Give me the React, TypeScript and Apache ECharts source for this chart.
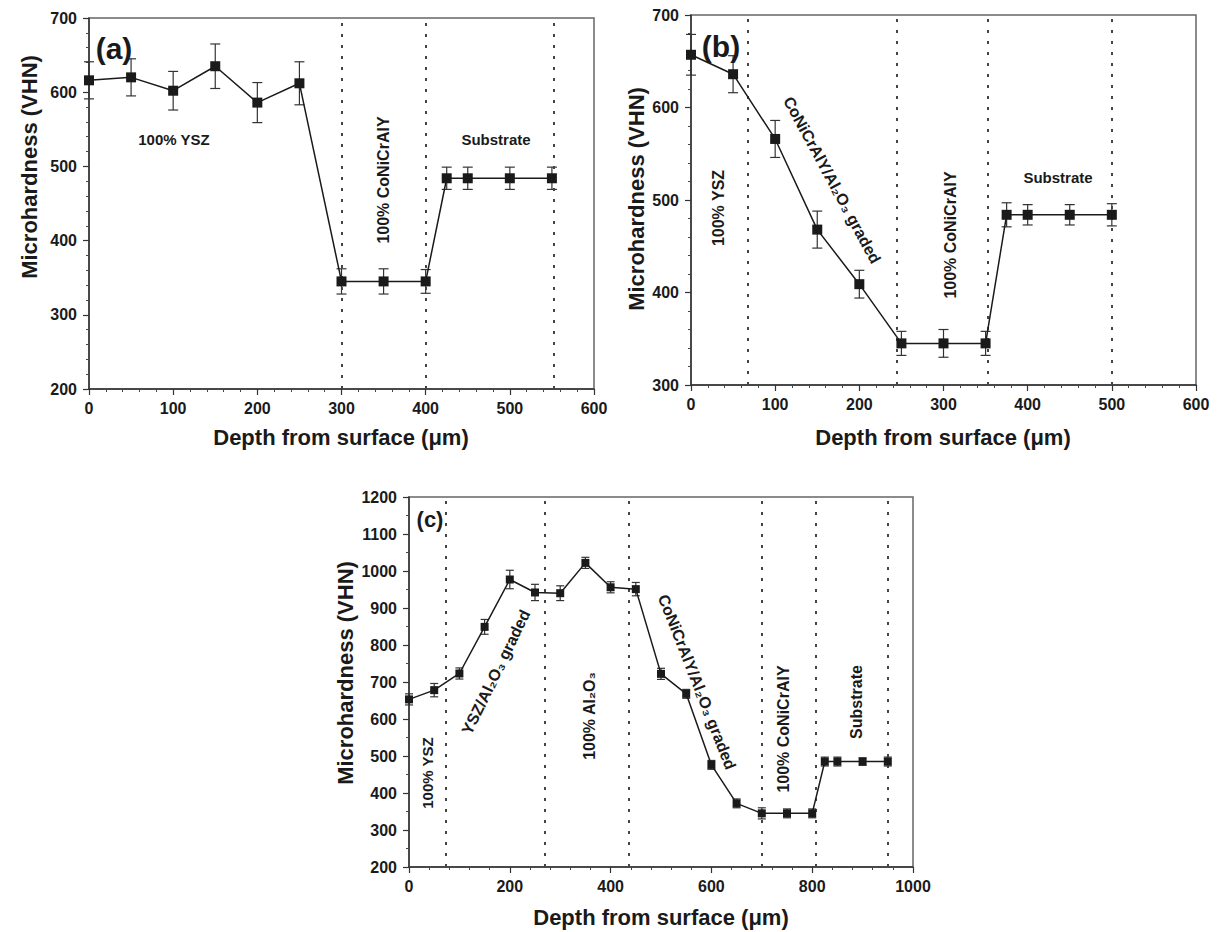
import React, { useEffect, useRef } from "react";
import * as echarts from "echarts";

// ---------- data ----------
const depthA = [0, 50, 100, 150, 200, 250, 300, 350, 400, 425, 450, 500, 550];
const hardA = [616, 620, 602, 635, 586, 612, 345, 345, 345, 484, 484, 484, 484];
const errA = [25, 25, 26, 30, 27, 29, 17, 17, 16, 15, 15, 15, 15];
const dividersA = [300, 400, 552];

const depthB = [0, 50, 100, 150, 200, 250, 300, 350, 375, 400, 450, 500];
const hardB = [657, 636, 566, 468, 409, 345, 345, 345, 484, 484, 484, 484];
const errB = [22, 20, 20, 20, 15, 13, 15, 13, 13, 11, 11, 12];
const dividersB = [68, 244, 353, 500];

const depthC = [0, 50, 100, 150, 200, 250, 300, 350, 400, 450, 500, 550, 600, 650, 700, 750, 800, 825, 850, 900, 950];
const hardC = [653, 678, 723, 849, 977, 942, 940, 1022, 956, 951, 722, 668, 476, 372, 345, 345, 345, 485, 485, 485, 485];
const errC = [15, 18, 15, 20, 25, 22, 20, 15, 15, 18, 15, 12, 12, 12, 15, 12, 12, 12, 12, 10, 12];
const dividersC = [73, 270, 437, 700, 808, 950];

const xTicksAB = { min: 0, max: 600, interval: 100 };
const xTicksC = { min: 0, max: 1000, interval: 200 };
const yTicksA = { min: 200, max: 700, interval: 100 };
const yTicksB = { min: 300, max: 700, interval: 100 };
const yTicksC = { min: 200, max: 1200, interval: 100 };

const xTitle = "Depth from surface (μm)";
const yTitle = "Microhardness (VHN)";

// ---------- styling ----------
const FONT = "Liberation Sans";
const INK = "#1a1a1a";

const grids = [
  { left: 89, top: 18, width: 505, height: 371 },
  { left: 691, top: 15, width: 505, height: 370 },
  { left: 409, top: 497, width: 504, height: 370 },
];

const plainNum = (v: number) => String(v);

function xAxisCfg(idx: number, t: any, minorSplit: number) {
  return {
    type: "value",
    gridIndex: idx,
    min: t.min,
    max: t.max,
    interval: t.interval,
    splitLine: { show: false },
    axisLine: { show: true, onZero: false, lineStyle: { color: "#333", width: 1.5 } },
    axisTick: { show: true, inside: false, length: 6, lineStyle: { color: "#333", width: 1.2 } },
    minorTick: { show: true, splitNumber: minorSplit, length: 3, lineStyle: { color: "#444", width: 1 } },
    axisLabel: { fontFamily: FONT, fontWeight: "bold", fontSize: 16, color: INK, margin: 11, formatter: plainNum },
  };
}
function yAxisCfg(idx: number, t: any, minorSplit: number) {
  return {
    type: "value",
    gridIndex: idx,
    min: t.min,
    max: t.max,
    interval: t.interval,
    splitLine: { show: false },
    axisLine: { show: true, onZero: false, lineStyle: { color: "#333", width: 1.5 } },
    axisTick: { show: true, inside: false, length: 6, lineStyle: { color: "#333", width: 1.2 } },
    minorTick: { show: true, splitNumber: minorSplit, length: 3, lineStyle: { color: "#444", width: 1 } },
    axisLabel: { fontFamily: FONT, fontWeight: "bold", fontSize: 16, color: INK, margin: 12, formatter: plainNum },
  };
}

function lineSeries(idx: number, xs: number[], ys: number[], dividers: number[], size: number) {
  return {
    type: "line",
    xAxisIndex: idx,
    yAxisIndex: idx,
    data: xs.map((x, i) => [x, ys[i]]),
    symbol: "rect",
    symbolSize: size,
    z: 5,
    lineStyle: { color: INK, width: 1.5 },
    itemStyle: { color: INK },
    markLine: {
      silent: true,
      symbol: ["none", "none"],
      label: { show: false },
      lineStyle: { type: [3, 8], color: "#444", width: 2 },
      data: dividers.map((v) => ({ xAxis: v })),
    },
  };
}

function errSeries(idx: number, xs: number[], ys: number[], es: number[], cap: number) {
  return {
    type: "custom",
    xAxisIndex: idx,
    yAxisIndex: idx,
    z: 4,
    encode: { x: 0, y: 1 },
    data: xs.map((x, i) => [x, ys[i], es[i]]),
    renderItem: (params: any, api: any) => {
      const x = api.value(0);
      const y = api.value(1);
      const e = api.value(2);
      const hi = api.coord([x, y + e]);
      const lo = api.coord([x, y - e]);
      const style = { stroke: "#333", lineWidth: 1.2 };
      return {
        type: "group",
        children: [
          { type: "line", shape: { x1: hi[0], y1: hi[1], x2: lo[0], y2: lo[1] }, style },
          { type: "line", shape: { x1: hi[0] - cap, y1: hi[1], x2: hi[0] + cap, y2: hi[1] }, style },
          { type: "line", shape: { x1: lo[0] - cap, y1: lo[1], x2: lo[0] + cap, y2: lo[1] }, style },
        ],
      };
    },
  };
}

function txt(text: string, x: number, y: number, size: number, rotDeg = 0) {
  return {
    type: "text",
    x,
    y,
    rotation: (rotDeg * Math.PI) / 180,
    z: 10,
    style: {
      text,
      fill: INK,
      fontFamily: FONT,
      fontWeight: "bold",
      fontSize: size,
      align: "center",
      verticalAlign: "middle",
      textAlign: "center",
      textVerticalAlign: "middle",
    },
  };
}

export default function App() {
  const ref = useRef<HTMLDivElement>(null);
  useEffect(() => {
    if (!ref.current) return;
    const chart = echarts.init(ref.current, null, { renderer: "svg" });
    const option: any = {
      animation: false,
      backgroundColor: "#ffffff",
      grid: grids.map((g) => ({ ...g, show: true, borderColor: "#666", borderWidth: 1.5, containLabel: false })),
      xAxis: [xAxisCfg(0, xTicksAB, 5), xAxisCfg(1, xTicksAB, 5), xAxisCfg(2, xTicksC, 5)],
      yAxis: [yAxisCfg(0, yTicksA, 5), yAxisCfg(1, yTicksB, 5), yAxisCfg(2, yTicksC, 2)],
      series: [
        errSeries(0, depthA, hardA, errA, 5),
        lineSeries(0, depthA, hardA, dividersA, 10),
        errSeries(1, depthB, hardB, errB, 5),
        lineSeries(1, depthB, hardB, dividersB, 10),
        errSeries(2, depthC, hardC, errC, 4),
        lineSeries(2, depthC, hardC, dividersC, 8),
      ],
      graphic: [
        // axis titles
        txt(xTitle, 341, 437, 22),
        txt(xTitle, 943, 437, 22),
        txt(xTitle, 661, 917, 22),
        txt(yTitle, 29, 167, 22, 90),
        txt(yTitle, 636, 199, 22, 90),
        txt(yTitle, 345, 673, 22, 90),
        // panel letters
        txt("(a)", 114, 48, 30),
        txt("(b)", 721, 46, 30),
        txt("(c)", 430, 519, 22),
        // panel (a) annotations
        txt("100% YSZ", 174, 139, 15),
        txt("100% CoNiCrAlY", 383, 180, 16, 90),
        txt("Substrate", 496, 139, 15),
        // panel (b) annotations
        txt("100% YSZ", 718, 208, 16, 90),
        txt("CoNiCrAlY/Al₂O₃ graded", 832, 180, 16, -61.6),
        txt("100% CoNiCrAlY", 950, 235, 16, 90),
        txt("Substrate", 1058, 177, 15),
        // panel (c) annotations
        txt("100% YSZ", 427, 773, 15, 90),
        txt("YSZ/Al₂O₃ graded", 496, 672, 16, 64),
        txt("100% Al₂O₃", 589, 716, 16, 90),
        txt("CoNiCrAlY/Al₂O₃ graded", 697, 682, 16, -68.5),
        txt("100% CoNiCrAlY", 783, 729, 16, 90),
        txt("Substrate", 856, 702, 16, 90),
      ],
    };
    chart.setOption(option);
    return () => chart.dispose();
  }, []);
  return (
    <div
      ref={ref}
      style={{ position: "absolute", left: 0, top: 0, width: 1217, height: 932, background: "#fff" }}
    />
  );
}
